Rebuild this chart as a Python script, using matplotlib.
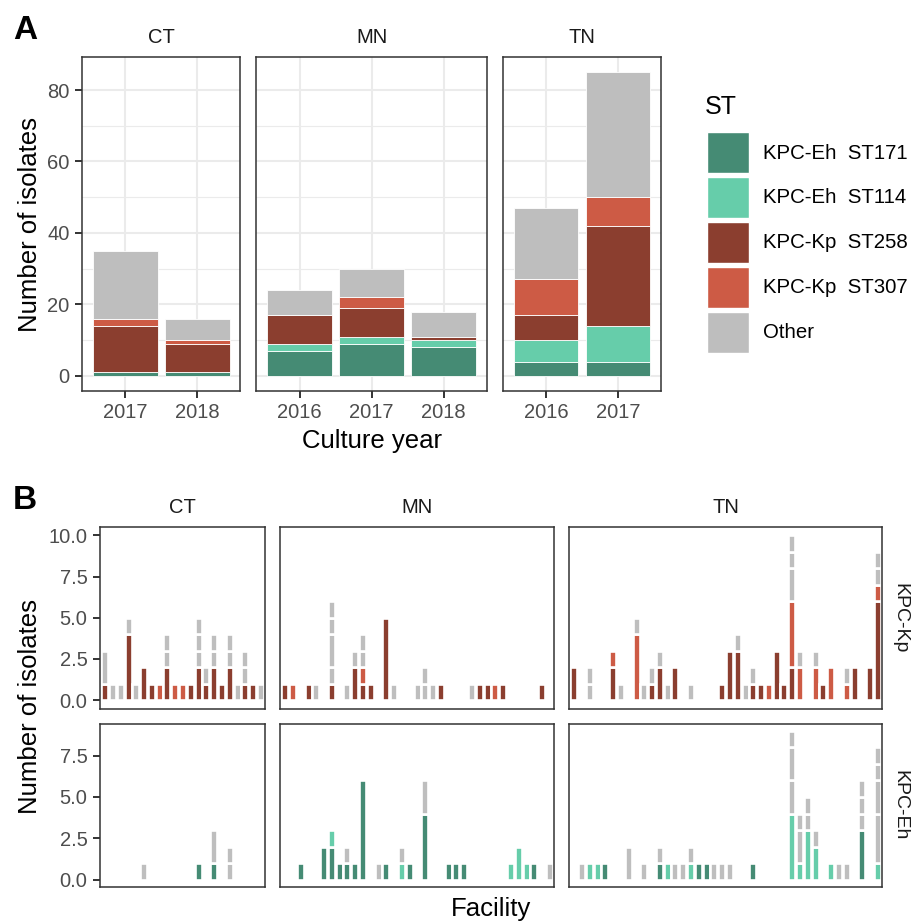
import numpy as np
import matplotlib.pyplot as plt
from matplotlib.patches import Patch

plt.rcParams['font.family'] = ['Liberation Sans', 'DejaVu Sans']

W, H = 911, 923

# sequence types, drawn bottom to top in every stack
st_names = ["KPC-Eh  ST171", "KPC-Eh  ST114", "KPC-Kp  ST258", "KPC-Kp  ST307", "Other"]
st_colors = ["#458B74", "#66CDAA", "#8B3E2F", "#CD5B45", "#BEBEBE"]

states = ["CT", "MN", "TN"]

# panel A: isolates per culture year (ST171, ST114, ST258, ST307, Other)
ct_years = ["2017", "2018"]
mn_years = ["2016", "2017", "2018"]
tn_years = ["2016", "2017"]
ct_counts = [[1, 0, 13, 2, 19], [1, 0, 8, 1, 6]]
mn_counts = [[7, 2, 8, 0, 7], [9, 2, 8, 3, 8], [8, 2, 1, 0, 7]]
tn_counts = [[4, 6, 7, 10, 20], [4, 10, 28, 8, 35]]

# panel B: stacked segments per facility as (facility, ST index, isolates)
n_facilities = [21, 35, 40]
ct_kp = [(0, 2, 1), (0, 4, 2), (1, 4, 1), (2, 4, 1), (3, 2, 4), (3, 4, 1), (4, 4, 1),
         (5, 2, 2), (6, 2, 1), (7, 3, 1), (8, 2, 2), (8, 4, 1), (8, 4, 1), (9, 3, 1),
         (10, 3, 1), (11, 2, 1), (12, 2, 2), (12, 4, 1), (12, 4, 1), (12, 4, 1),
         (13, 2, 1), (13, 4, 1), (14, 2, 2), (14, 4, 1), (14, 4, 1), (15, 2, 1),
         (16, 2, 2), (16, 4, 1), (16, 4, 1), (17, 4, 1), (18, 2, 1), (18, 4, 1),
         (18, 4, 1), (19, 2, 1), (20, 4, 1)]
ct_eh = [(5, 4, 1), (12, 0, 1), (14, 0, 1), (14, 4, 2), (16, 4, 1), (16, 4, 1)]
mn_kp = [(0, 2, 1), (1, 3, 1), (3, 2, 1), (4, 4, 1), (6, 2, 1), (6, 4, 1), (6, 4, 2),
         (6, 4, 1), (6, 4, 1), (8, 4, 1), (9, 2, 2), (9, 4, 1), (10, 2, 1), (10, 3, 1),
         (10, 4, 1), (10, 4, 1), (11, 2, 1), (13, 2, 5), (14, 4, 1), (17, 4, 1),
         (18, 4, 1), (18, 4, 1), (19, 4, 1), (20, 2, 1), (24, 4, 1), (25, 2, 1),
         (26, 2, 1), (27, 3, 1), (28, 2, 1), (33, 2, 1)]
mn_eh = [(2, 0, 1), (5, 0, 2), (6, 0, 2), (6, 1, 1), (7, 0, 1), (8, 0, 1), (8, 4, 1),
         (9, 0, 1), (10, 0, 6), (12, 4, 1), (13, 0, 1), (15, 1, 1), (15, 4, 1),
         (16, 0, 1), (18, 0, 4), (18, 4, 2), (21, 0, 1), (22, 0, 1), (23, 0, 1),
         (29, 1, 1), (30, 1, 2), (31, 1, 1), (32, 0, 1), (34, 4, 1)]
tn_kp = [(0, 2, 2), (2, 4, 1), (2, 4, 1), (5, 2, 2), (5, 3, 1), (6, 4, 1), (8, 3, 4),
         (8, 4, 1), (9, 4, 1), (10, 2, 1), (10, 4, 1), (11, 2, 2), (11, 4, 1),
         (12, 4, 1), (13, 2, 2), (15, 4, 1), (19, 2, 1), (20, 2, 3), (21, 2, 3),
         (21, 4, 1), (22, 4, 1), (23, 2, 1), (23, 4, 1), (24, 2, 1), (25, 3, 1),
         (26, 2, 3), (27, 2, 1), (28, 2, 2), (28, 3, 4), (28, 4, 2), (28, 4, 1),
         (28, 4, 1), (29, 3, 2), (29, 4, 1), (31, 3, 2), (31, 4, 1), (32, 2, 1),
         (33, 3, 2), (35, 3, 1), (35, 4, 1), (36, 2, 2), (38, 2, 2), (39, 2, 6),
         (39, 3, 1), (39, 4, 1), (39, 4, 1)]
tn_eh = [(1, 4, 1), (2, 1, 1), (3, 1, 1), (4, 0, 1), (7, 4, 2), (9, 4, 1), (11, 0, 1),
         (11, 4, 1), (12, 1, 1), (13, 4, 1), (14, 4, 1), (15, 1, 1), (15, 4, 1),
         (16, 0, 1), (17, 0, 1), (18, 4, 1), (19, 4, 1), (20, 4, 1), (23, 0, 1),
         (28, 1, 4), (28, 4, 2), (28, 4, 2), (28, 4, 1), (29, 1, 1), (29, 4, 2),
         (29, 4, 1), (30, 1, 3), (30, 4, 1), (30, 4, 1), (31, 1, 2), (31, 4, 1),
         (33, 1, 1), (34, 4, 1), (35, 4, 1), (37, 0, 3), (37, 4, 1), (37, 4, 1),
         (37, 4, 1), (39, 1, 1), (39, 4, 3), (39, 4, 2), (39, 4, 1), (39, 4, 1)]

fig = plt.figure(figsize=(W / 100, H / 100), dpi=100)


def px_axes(left, top, right, bottom):
    return fig.add_axes([left / W, 1 - bottom / H, (right - left) / W, (bottom - top) / H])


def style_axes(ax):
    for sp in ax.spines.values():
        sp.set_color("#333333")
        sp.set_linewidth(1.1)
    ax.tick_params(length=5, width=1.4, color="#333333", labelcolor="#4D4D4D",
                   labelsize=14.5, pad=4)


def px_text(x, y, s, **kw):
    fig.text(x / W, 1 - y / H, s, **kw)


# ---- panel A ----
years_all = [ct_years, mn_years, tn_years]
counts_all = [ct_counts, mn_counts, tn_counts]
unit_a, left_a, gap_a = 72.0, 82.0, 16.0
for i, (state, years, counts) in enumerate(zip(states, years_all, counts_all)):
    width_px = (len(years) + 0.2) * unit_a
    ax = px_axes(left_a, 57, left_a + width_px, 391)
    left_a += width_px + gap_a
    counts = np.array(counts)
    x = np.arange(len(years))
    bottom = np.zeros(len(years))
    for k in range(len(st_names)):
        keep = counts[:, k] > 0
        ax.bar(x[keep], counts[keep, k], bottom=bottom[keep], width=0.9,
               color=st_colors[k], edgecolor="white", linewidth=0.6, zorder=3)
        bottom += counts[:, k]
    ax.set_xlim(-0.6, len(years) - 0.4)
    ax.set_ylim(-4.25, 89.25)
    ax.set_xticks(x, years)
    ax.set_yticks([0, 20, 40, 60, 80])
    ax.set_yticks([10, 30, 50, 70], minor=True)
    ax.grid(which="major", color="#EBEBEB", linewidth=1.5)
    ax.grid(which="minor", axis="y", color="#EBEBEB", linewidth=0.8)
    ax.set_axisbelow(True)
    style_axes(ax)
    ax.tick_params(which="minor", length=0)
    if i > 0:
        ax.tick_params(axis="y", left=False, labelleft=False)
    ax.set_title(state, fontsize=14.5, color="#1A1A1A", pad=10)

px_text(372, 441, "Culture year", fontsize=18.5, ha="center", va="center")
px_text(30, 224, "Number of isolates", fontsize=18.5, rotation=90, ha="center", va="center")
px_text(13, 39, "A", fontsize=24, fontweight="bold", ha="left", va="baseline")

# legend: title as its own text so the gap to the keys can be set freely
px_text(705, 114, "ST", fontsize=18, ha="left", va="baseline")
handles = [Patch(facecolor=c, edgecolor="white", linewidth=1.0) for c in st_colors]
leg = fig.legend(handles, st_names, loc="upper left", bbox_to_anchor=(707 / W, 1 - 132 / H),
                 frameon=False, fontsize=14.7, handlelength=2.04, handleheight=2.7,
                 labelspacing=0.2, handletextpad=0.68, borderpad=0, borderaxespad=0)

# ---- panel B ----
rows = [("KPC-Kp", [ct_kp, mn_kp, tn_kp], 10.5, [0, 2.5, 5, 7.5, 10], 527, 708.5),
        ("KPC-Eh", [ct_eh, mn_eh, tn_eh], 9.45, [0, 2.5, 5, 7.5], 723.5, 887)]
unit_b, gap_b = 7.785, 15.0
for r, (species, seg_lists, ymax, yticks, top, bot) in enumerate(rows):
    left_b = 100.0
    for i, (state, n_fac, segments) in enumerate(zip(states, n_facilities, seg_lists)):
        width_px = (n_fac + 0.2) * unit_b
        ax = px_axes(left_b, top, left_b + width_px, bot)
        left_b += width_px + gap_b
        stack = np.zeros(n_fac)
        for fac, st, n in segments:
            ax.bar(fac, n, bottom=stack[fac], width=0.9, color=st_colors[st],
                   edgecolor="white", linewidth=1.9)
            stack[fac] += n
        ax.set_xlim(-0.6, n_fac - 0.4)
        ax.set_ylim(-ymax / 21, ymax)
        ax.set_xticks([])
        ax.set_yticks(yticks, [f"{v:.1f}" for v in yticks])
        style_axes(ax)
        if i > 0:
            ax.tick_params(axis="y", left=False, labelleft=False)
        if r == 0:
            ax.set_title(state, fontsize=14.5, color="#1A1A1A", pad=10)
    px_text(900, (top + bot) / 2, species, fontsize=14, color="#1A1A1A",
            rotation=270, ha="center", va="center")

px_text(491, 909, "Facility", fontsize=18.5, ha="center", va="center")
px_text(30, 707, "Number of isolates", fontsize=18.5, rotation=90, ha="center", va="center")
px_text(13, 509, "B", fontsize=24, fontweight="bold", ha="left", va="baseline")

fig.savefig("out.png", dpi=100)
